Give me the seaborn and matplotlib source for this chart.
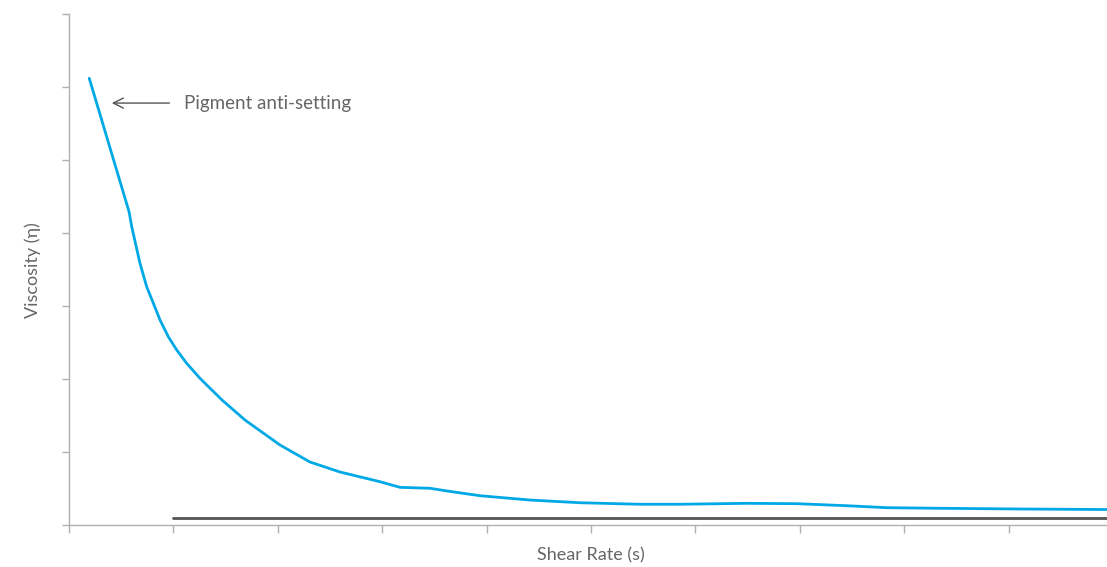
import numpy as np
import pandas as pd
import matplotlib.pyplot as plt
import seaborn as sns

# courbe de viscosité (unités arbitraires)
shear_rate = [0.194, 0.575, 0.601, 0.680, 0.744, 0.808, 0.872, 0.951, 1.032,
              1.127, 1.255, 1.466, 1.686, 2.021, 2.308, 2.596, 2.979, 3.170,
              3.458, 3.621, 3.937, 4.416, 4.895, 5.470, 5.852, 6.494, 6.973,
              7.452, 7.835, 8.343, 9.138, 9.943]
viscosity = [6.119, 4.292, 4.086, 3.585, 3.264, 3.037, 2.808, 2.580, 2.397,
             2.215, 2.009, 1.712, 1.438, 1.096, 0.863, 0.726, 0.593, 0.516,
             0.503, 0.466, 0.401, 0.342, 0.305, 0.284, 0.284, 0.297, 0.292,
             0.264, 0.237, 0.229, 0.219, 0.212]

# ligne de référence
base_x = [1.0, 9.943]
base_y = [0.096, 0.096]

annot_text = "Pigment anti-setting"
annot_xy = (0.41, 5.78)
annot_text_xy = (1.10, 5.78)

sns.set_style("white")
plt.rcParams['font.family'] = ['Lato', 'DejaVu Sans']

fig = plt.figure(figsize=(11.07, 5.67), dpi=100)
ax = fig.add_axes([69 / 1107, 42 / 567, 1038 / 1107, 511 / 567])

df = pd.DataFrame({'x': shear_rate, 'y': viscosity})
sns.lineplot(data=df, x='x', y='y', sort=False, color='#00a9e6', linewidth=2.0, ax=ax)
sns.lineplot(x=base_x, y=base_y, color='#555555', linewidth=2.0, ax=ax)

ax.set_xlim(0, 9.943)
ax.set_ylim(0, 7)
ax.set_xticks(np.arange(0, 10))
ax.set_yticks(np.arange(0, 8))
ax.set_xticklabels([])
ax.set_yticklabels([])
ax.tick_params(axis='both', direction='out', color='#b0b0b0', width=1.0,
               bottom=True, left=True)
ax.tick_params(axis='x', length=6)
ax.tick_params(axis='y', length=5)

sns.despine(ax=ax)
for side in ['left', 'bottom']:
    ax.spines[side].set_color('#b0b0b0')
    ax.spines[side].set_linewidth(1.0)

ax.set_xlabel("Shear Rate (s)", fontsize=13, color='#666666', va='center')
ax.set_ylabel("Viscosity (η)", fontsize=13, color='#666666', va='center')
ax.xaxis.set_label_coords(0.503, -0.0587)
ax.yaxis.set_label_coords(-0.0347, 0.499)

ax.annotate(annot_text, xy=annot_xy, xytext=annot_text_xy,
            fontsize=13.5, color='#666666', va='center', ha='left',
            arrowprops=dict(arrowstyle='->', color='#555555', lw=1.0,
                            mutation_scale=18, shrinkA=8, shrinkB=0))

fig.savefig('out.png', dpi=100)
